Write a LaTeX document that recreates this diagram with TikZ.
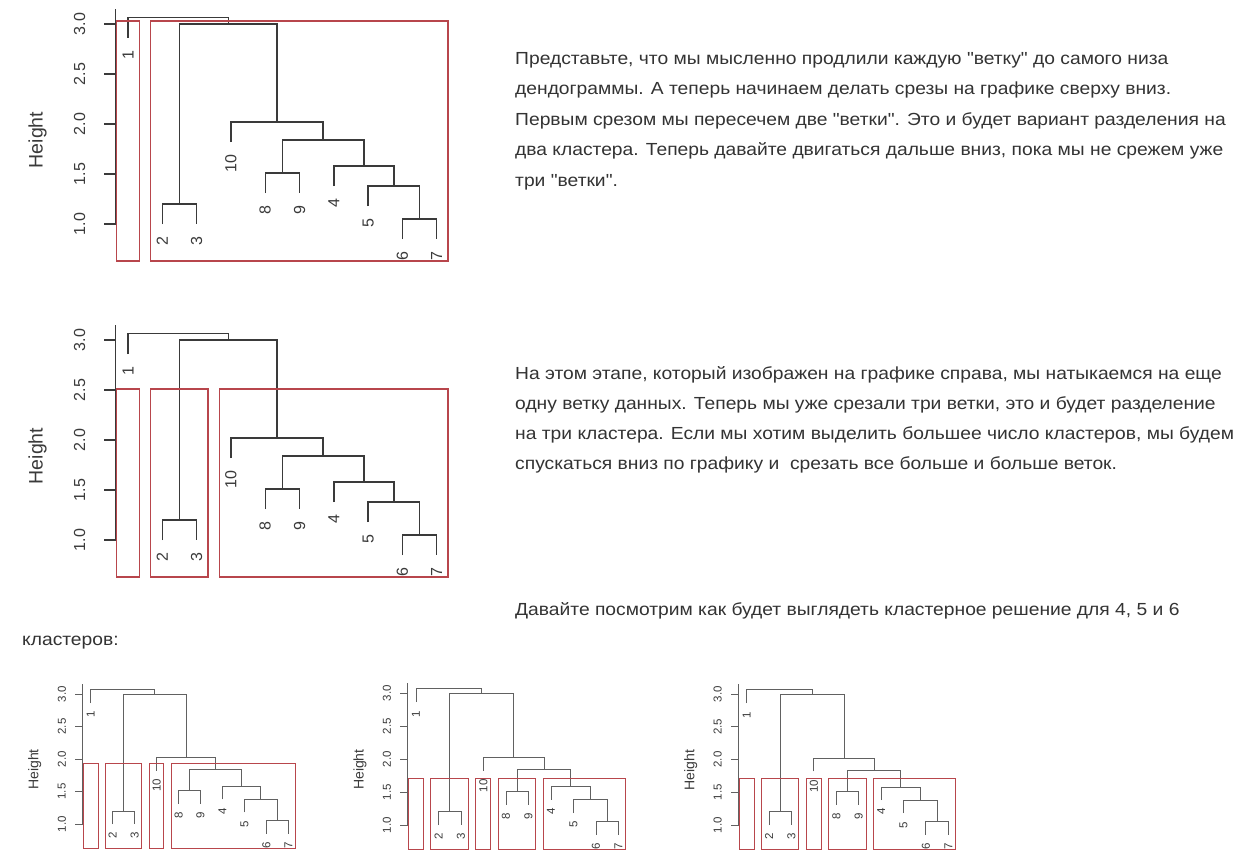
\documentclass[tikz,border=0pt]{standalone}
\usepackage{fontspec}
\setmainfont{Liberation Sans}
\newfontfamily\bodyfont{Liberation Sans}[FakeStretch=1.1]
\usetikzlibrary{positioning}
\definecolor{cut}{HTML}{B8464C}
\definecolor{branchgray}{HTML}{3A3A3A}
\definecolor{textgray}{HTML}{333333}

% #1 tick length (also gap under a leaf), #2 tick label shift, #3 ylab shift, #4 cut boxes left/right/top
\newcommand{\dendro}[4]{%
  \draw[branch] (0.64,1) -- (0.64,3.15);
  \foreach \tk in {1.0,1.5,2.0,2.5,3.0} {
    \draw[branch] (0.64,\tk) -- ++(-#1,0);
    \node[xshift=-#2, ticklab] (tick\tk) at (0.64,\tk) {\tk};
  }
  \node[xshift=-#3, ylab] (ylab) at (0.64,1.84) {Height};
  % merges: left x/left h/right x/right h/merge h
  \foreach \xl/\hl/\xr/\hr/\hm in {9/0.85/10/0.85/1.05, 8/1.18/9.5/1.05/1.38,
      7/1.38/8.75/1.38/1.58, 5/1.31/6/1.31/1.51, 5.5/1.51/7.875/1.58/1.84,
      4/1.82/6.6875/1.84/2.02, 2/1.0/3/1.0/1.2, 2.5/1.2/5.34375/2.02/3.0,
      1/2.86/3.921875/3.0/3.063}
    \draw[branch] (\xl,\hl) |- (\xr,\hm) -- (\xr,\hr);
  % leaf labels, cut at the bottom of the plot
  \begin{scope}
    \clip (0,0.62) rectangle (11,3.3);
    \foreach \lx/\ly/\lab in {1/2.86/1, 2/1.0/2, 3/1.0/3, 4/1.82/10, 5/1.31/8,
        6/1.31/9, 7/1.38/4, 8/1.18/5, 9/0.85/6, 10/0.85/7}
      \node[yshift=-#1, leaflab] (leaf\lab) at (\lx,\ly) {\lab};
  \end{scope}
  \foreach \bl/\br/\bt in {#4}
    \draw[cutbox] (\bl,0.63) rectangle (\br,\bt);
}

\begin{document}
\begin{tikzpicture}[x=1pt, y=1pt,
    branch/.style={draw=branchgray},
    cutbox/.style={draw=cut},
    ticklab/.style={rotate=90, inner sep=0pt, text=branchgray},
    leaflab/.style={rotate=90, anchor=east, inner sep=0pt, text=branchgray},
    ylab/.style={rotate=90, inner sep=0pt, scale=1.22, text=branchgray},
    para/.style={anchor=base west, inner sep=0pt, text=textgray,
      font=\bodyfont\fontsize{17.5}{20}\selectfont}]
  \useasboundingbox[fill=white] (0,0) rectangle (1244,-867);

  % two clusters
  \begin{scope}[shift={(93.7,-324)}, x=34.3pt, y=100pt, line width=1.4pt,
      font=\fontsize{16}{16}\selectfont, name prefix=two-]
    \dendro{12pt}{36pt}{78pt}{0.66/1.33/3.03, 1.66/10.33/3.03}
  \end{scope}

  % three clusters
  \begin{scope}[shift={(93.7,-640)}, x=34.3pt, y=100pt, line width=1.4pt,
      font=\fontsize{16}{16}\selectfont, name prefix=three-]
    \dendro{12pt}{36pt}{78pt}{0.66/1.33/2.51, 1.66/3.33/2.51, 3.66/10.33/2.51}
  \end{scope}

  % four, five and six clusters
  \begin{scope}[shift={(68.8,-889)}, x=21.95pt, y=65pt, line width=0.9pt,
      branch/.style={draw=black!62}, font=\fontsize{11.5}{11.5}\selectfont, name prefix=four-]
    \dendro{8pt}{21pt}{48pt}{0.66/1.33/1.93, 1.66/3.33/1.93, 3.66/4.33/1.93, 4.66/10.33/1.93}
  \end{scope}
  \begin{scope}[shift={(393.5,-891)}, x=22.5pt, y=66pt, line width=0.9pt,
      branch/.style={draw=black!62}, font=\fontsize{11.5}{11.5}\selectfont, name prefix=five-]
    \dendro{8pt}{21pt}{48pt}{0.66/1.33/1.71, 1.66/3.33/1.71, 3.66/4.33/1.71, 4.66/6.33/1.71, 6.66/10.33/1.71}
  \end{scope}
  \begin{scope}[shift={(724.3,-890.5)}, x=22.4pt, y=65.5pt, line width=0.9pt,
      branch/.style={draw=black!62}, font=\fontsize{11.5}{11.5}\selectfont, name prefix=six-]
    \dendro{8pt}{21pt}{48pt}{0.66/1.33/1.71, 1.66/3.33/1.71, 3.66/4.33/1.71, 4.66/6.33/1.71, 6.66/10.33/1.71}
  \end{scope}

  % text
  \foreach \ln [count=\i] in {
      {Представьте, что мы мысленно продлили каждую "ветку" до самого низа},
      {дендограммы. А теперь начинаем делать срезы на графике сверху вниз.},
      {Первым срезом мы пересечем две "ветки". Это и будет вариант разделения на},
      {два кластера. Теперь давайте двигаться дальше вниз, пока мы не срежем уже},
      {три "ветки".}}
    \node[para] (first\i) at (515,{-64-30.5*(\i-1)}) {\ln};
  \foreach \ln [count=\i] in {
      {На этом этапе, который изображен на графике справа, мы натыкаемся на еще},
      {одну ветку данных. Теперь мы уже срезали три ветки, это и будет разделение},
      {на три кластера. Если мы хотим выделить большее число кластеров, мы будем},
      {спускаться вниз по графику и~ срезать все больше и больше веток.}}
    \node[para] (second\i) at (515,{-379-30.3*(\i-1)}) {\ln};
  \node[para] (third1) at (515,-615) {Давайте посмотрим как будет выглядеть кластерное решение для 4, 5 и 6};
  \node[para] (third2) at (22,-645) {кластеров:};
\end{tikzpicture}
\end{document}
